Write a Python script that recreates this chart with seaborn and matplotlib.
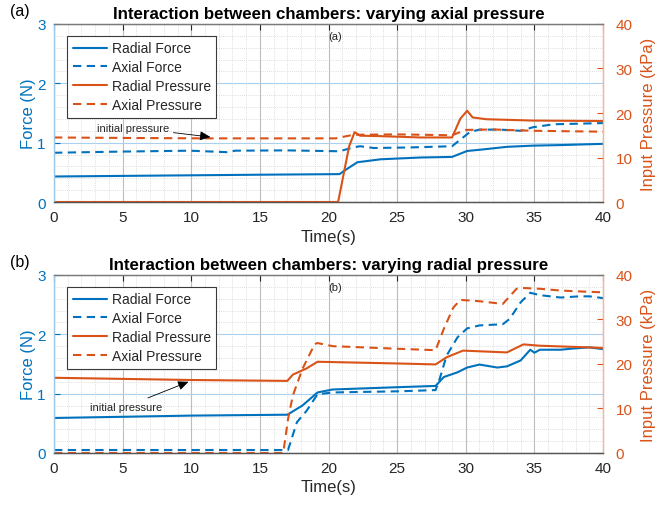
import numpy as np
import matplotlib
matplotlib.use("Agg")
import matplotlib.pyplot as plt
import seaborn as sns
from matplotlib.ticker import MultipleLocator

# ---- panel (a): varying axial pressure ----
t_a_rf = [0, 5, 10, 15, 20.8, 21.3, 22.1, 23.8, 26.7, 29.0, 30.1, 31.0, 33.0, 34.9, 37.0, 40]
a_rad_force = [0.43, 0.44, 0.45, 0.46, 0.47, 0.55, 0.67, 0.72, 0.75, 0.76, 0.86, 0.88, 0.93, 0.95, 0.96, 0.98]

t_a_af = [0, 5, 9.9, 12.6, 13.2, 17, 20.8, 21.8, 22.3, 23.3, 26, 29.0, 30.3, 31.0, 32.5, 34.0, 34.9, 36.4, 40]
a_ax_force = [0.83, 0.85, 0.865, 0.84, 0.865, 0.87, 0.855, 0.92, 0.94, 0.91, 0.92, 0.94, 1.18, 1.22, 1.22, 1.2, 1.26, 1.31, 1.33]

t_a_rp = [0, 20.7, 21.5, 21.9, 22.3, 23.8, 26.7, 29.0, 29.6, 30.1, 30.5, 31.5, 34.9, 40]
a_rad_press = [0, 0, 12.5, 15.7, 14.9, 14.8, 14.5, 14.5, 18.7, 20.5, 19.0, 18.6, 18.3, 18.2]

t_a_ap = [0, 5, 11, 20.5, 21.8, 25, 29.0, 30.0, 32.0, 35, 40]
a_ax_press = [14.5, 14.4, 14.3, 14.3, 15.1, 15.2, 15.0, 16.2, 16.3, 16.0, 15.8]

# ---- panel (b): varying radial pressure ----
t_b_rf = [0, 5, 10, 17.0, 18.1, 19.2, 20.3, 25.2, 27.8, 28.4, 29.4, 30.1, 31.0, 32.3, 33.0, 34.0,
          34.7, 35.0, 35.4, 36.9, 37.8, 39.0, 40]
b_rad_force = [0.59, 0.61, 0.63, 0.645, 0.8, 1.02, 1.07, 1.11, 1.13, 1.28, 1.36, 1.44, 1.49, 1.44, 1.46, 1.56,
               1.74, 1.69, 1.74, 1.74, 1.76, 1.78, 1.75]

t_b_af = [0, 17.05, 17.7, 18.4, 19.2, 20.3, 25.2, 27.8, 28.1, 28.6, 29.4, 30.1, 31.0, 32.7, 33.2, 34.0,
          34.7, 35.4, 36.9, 38.3, 39.0, 40]
b_ax_force = [0.05, 0.05, 0.52, 0.71, 0.99, 1.02, 1.04, 1.06, 1.25, 1.64, 1.95, 2.10, 2.15, 2.17, 2.26, 2.54,
              2.70, 2.66, 2.62, 2.64, 2.64, 2.61]

t_b_rp = [0, 10, 17.0, 17.4, 18.4, 19.2, 25.2, 27.8, 28.6, 29.8, 33.0, 34.2, 35.4, 38.3, 40]
b_rad_press = [16.9, 16.4, 16.2, 17.6, 19.0, 20.5, 20.1, 19.9, 21.5, 23.0, 22.6, 24.4, 24.1, 23.8, 23.6]

t_b_ap = [0, 16.7, 17.05, 17.4, 18.1, 19.0, 19.2, 20.3, 25.2, 27.8, 28.4, 29.1, 29.6, 31.0, 32.7,
          33.7, 34.0, 35.4, 36.9, 38.3, 40]
b_ax_press = [0, 0, 7.6, 12.9, 18.9, 24.5, 24.7, 24.0, 23.4, 23.1, 27.9, 32.7, 34.4, 34.1, 33.5,
              36.9, 37.1, 36.9, 36.5, 36.3, 36.1]

x_ticks = [0, 5, 10, 15, 20, 25, 30, 35, 40]
force_ticks = [0, 1, 2, 3]
press_ticks = [0, 10, 20, 30, 40]

BLUE = "#0072BD"
ORANGE = "#D95319"
TXT = "#262626"

sns.set_style("white")
plt.rcParams["font.family"] = ["Liberation Sans", "DejaVu Sans"]

fig = plt.figure(figsize=(6.61, 5.06), dpi=100)

panels = [
    dict(tag="(a)", title="Interaction between chambers: varying axial pressure",
         rf=(t_a_rf, a_rad_force), af=(t_a_af, a_ax_force),
         rp=(t_a_rp, a_rad_press), ap=(t_a_ap, a_ax_press),
         bottom=0.5988, txt_xy=(3.1, 1.25), tip=(11.4, 1.095)),
    dict(tag="(b)", title="Interaction between chambers: varying radial pressure",
         rf=(t_b_rf, b_rad_force), af=(t_b_af, b_ax_force),
         rp=(t_b_rp, b_rad_press), ap=(t_b_ap, b_ax_press),
         bottom=0.1028, txt_xy=(2.6, 0.78), tip=(9.8, 1.2)),
]

for p in panels:
    ax = fig.add_axes([0.0817, p["bottom"], 0.8306, 0.3518])
    ax2 = ax.twinx()

    sns.lineplot(x=p["rf"][0], y=p["rf"][1], ax=ax, color=BLUE, lw=1.5, label="Radial Force", legend=False)
    sns.lineplot(x=p["af"][0], y=p["af"][1], ax=ax, color=BLUE, lw=1.5, linestyle=(0, (4, 2.6)),
                 label="Axial Force", legend=False)
    sns.lineplot(x=p["rp"][0], y=p["rp"][1], ax=ax2, color=ORANGE, lw=1.5, label="Radial Pressure", legend=False)
    sns.lineplot(x=p["ap"][0], y=p["ap"][1], ax=ax2, color=ORANGE, lw=1.5, linestyle=(0, (4, 2.6)),
                 label="Axial Pressure", legend=False)

    ax.set_xlim(0, 40)
    ax.set_ylim(0, 3)
    ax2.set_ylim(0, 40)
    ax.set_xticks(x_ticks)
    ax.set_yticks(force_ticks)
    ax2.set_yticks(press_ticks)
    ax.xaxis.set_minor_locator(MultipleLocator(1))
    ax.yaxis.set_minor_locator(MultipleLocator(0.2))

    # grid, MATLAB look
    ax.grid(True, which="major", axis="x", color="#bdbdbd", lw=0.8)
    ax.grid(True, which="major", axis="y", color="#a9d0ee", lw=0.8)
    ax.grid(True, which="minor", color="#d4d4d4", lw=0.6, linestyle=(0, (1, 1.5)))
    ax.set_axisbelow(True)

    ax.tick_params(axis="x", which="major", direction="in", length=4, top=True, colors=TXT,
                   labelsize=11, pad=6)
    ax.tick_params(axis="y", which="major", direction="in", length=4, colors=BLUE, labelsize=11, pad=6)
    ax.tick_params(which="minor", length=0)
    ax2.tick_params(axis="y", which="major", direction="in", length=4, colors=ORANGE, labelsize=11, pad=9)
    ax2.tick_params(which="minor", length=0)

    for a in (ax, ax2):
        a.spines["top"].set_color("#7a7a7a")
        a.spines["bottom"].set_color("#555555")
        a.spines["left"].set_color("#9cc9ea")
        a.spines["right"].set_color("#f2b69c")
        for s in a.spines.values():
            s.set_linewidth(0.9)

    ax.set_xlabel("Time(s)", fontsize=12, color=TXT, labelpad=3)
    ax.set_ylabel("Force (N)", fontsize=12, color=BLUE, labelpad=1)
    ax2.set_ylabel("Input Pressure (kPa)", fontsize=12, color=ORANGE, labelpad=6)
    ax.set_title(p["title"], fontsize=12.2, fontweight="bold", color="black", pad=4)

    fig.text(0.015, p["bottom"] + 0.3518 + 0.012, p["tag"], fontsize=11.5, color="black", va="bottom")
    ax.text(20.5, 2.80, p["tag"], fontsize=8, color=TXT, ha="center", va="center")

    ax2.annotate("initial pressure",
                 xy=ax2.transData.inverted().transform(ax.transData.transform(p["tip"])),
                 xytext=ax2.transData.inverted().transform(ax.transData.transform(p["txt_xy"])),
                 fontsize=8, color=TXT, ha="left", va="center",
                 arrowprops=dict(arrowstyle="-|>,head_length=0.8,head_width=0.35",
                                 color="black", lw=0.6, shrinkA=1, shrinkB=0))

    h1, l1 = ax.get_legend_handles_labels()
    h2, l2 = ax2.get_legend_handles_labels()
    leg = ax2.legend(h1 + h2, l1 + l2, loc="upper left", bbox_to_anchor=(0.024, 0.933),
                     fontsize=10, handlelength=2.5, labelspacing=0.35, borderpad=0.4,
                     handletextpad=0.3, fancybox=False, framealpha=1, edgecolor="#3a3a3a",
                     borderaxespad=0)
    leg.get_frame().set_linewidth(0.8)
    for t in leg.get_texts():
        t.set_color(TXT)

fig.savefig("out.png", dpi=100)
